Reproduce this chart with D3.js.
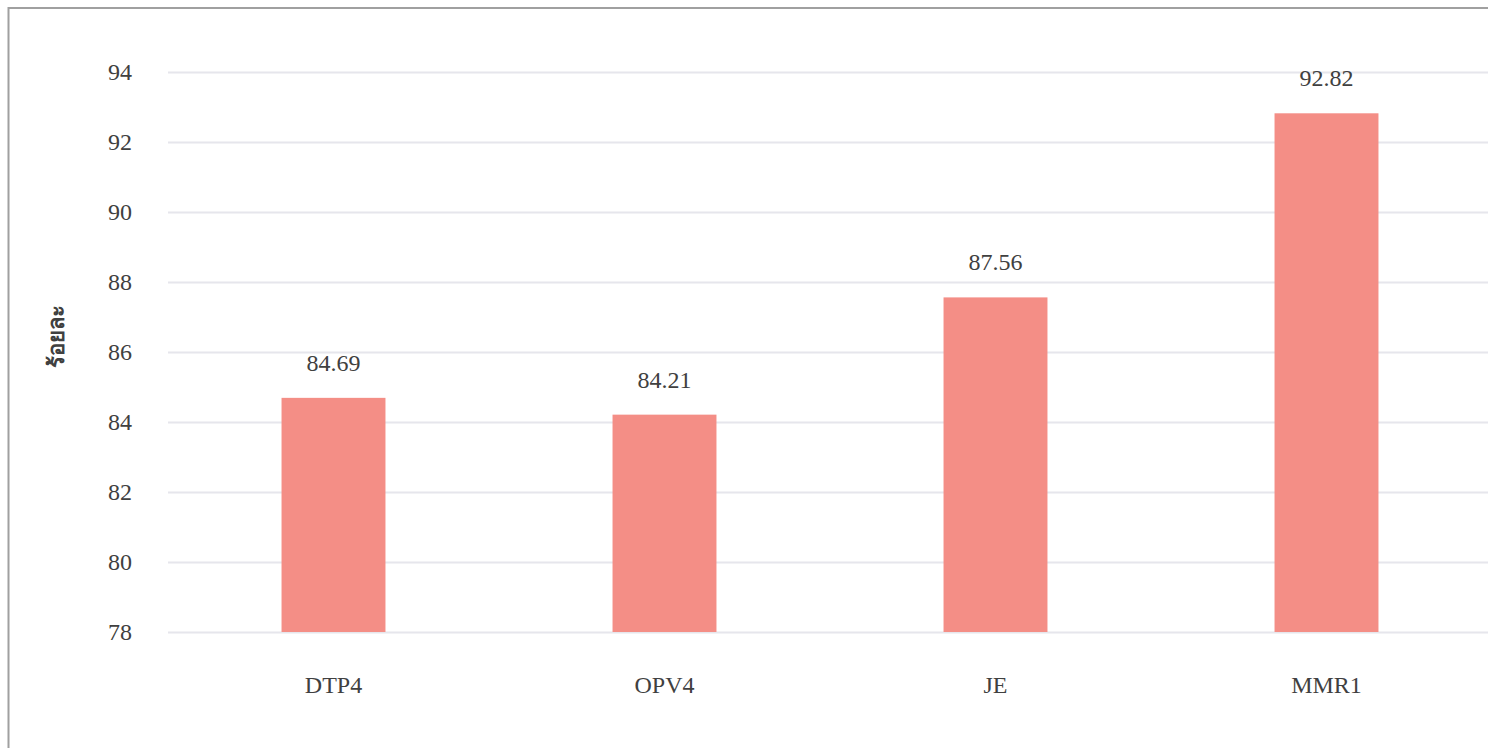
<!DOCTYPE html>
<html>
<head>
<meta charset="utf-8">
<script src="https://cdn.jsdelivr.net/npm/d3@7"></script>
<style>
  body { margin: 0; background: #fff; }
</style>
</head>
<body>
<div id="chart"></div>
<script>
const categories = ["DTP4", "OPV4", "JE", "MMR1"];
const values = [84.69, 84.21, 87.56, 92.82];
const yTicks = [78, 80, 82, 84, 86, 88, 90, 92, 94];
const yLabel = "ร้อยละ";

const width = 1488;
const height = 748;
const margin = { top: 72, right: -4, bottom: 116, left: 168 };
const serif = "'Times New Roman', Times, 'Liberation Serif', serif";

const x = d3
  .scaleBand()
  .domain(categories)
  .range([margin.left, width - margin.right])
  .padding(0);

const y = d3
  .scaleLinear()
  .domain([78, 94])
  .range([height - margin.bottom, margin.top]);

const barWidth = x.bandwidth() * 0.314;

const svg = d3
  .create("svg")
  .attr("width", width)
  .attr("height", height)
  .attr("viewBox", [0, 0, width, height])
  .style("font-family", serif);

// outer frame
svg
  .append("rect")
  .attr("x", 8.5)
  .attr("y", 8)
  .attr("width", width + 20)
  .attr("height", height + 20)
  .attr("fill", "none")
  .attr("stroke", "#a0a0a0")
  .attr("stroke-width", 2);

// grid lines
svg
  .append("g")
  .attr("transform", `translate(${margin.left},0)`)
  .call(
    d3
      .axisLeft(y)
      .tickValues(yTicks)
      .tickSize(-(width - margin.left - margin.right))
      .tickFormat("")
  )
  .call((g) => g.select(".domain").remove())
  .call((g) => g.selectAll("line").attr("stroke", "#e6e6ec").attr("stroke-width", 2));

// y tick labels
svg
  .append("g")
  .attr("transform", `translate(${margin.left - 36},0)`)
  .call(d3.axisLeft(y).tickValues(yTicks).tickSize(0).tickPadding(0))
  .call((g) => g.select(".domain").remove())
  .call((g) =>
    g
      .selectAll("text")
      .attr("font-size", 24)
      .attr("font-family", serif)
      .attr("fill", "#404040")
  );

// bars
svg
  .append("g")
  .selectAll("rect")
  .data(values)
  .join("rect")
  .attr("x", (d, i) => x(categories[i]) + (x.bandwidth() - barWidth) / 2)
  .attr("y", (d) => y(d))
  .attr("width", barWidth)
  .attr("height", (d) => y(78) - y(d))
  .attr("fill", "#f48e86");

// value labels
svg
  .append("g")
  .selectAll("text")
  .data(values)
  .join("text")
  .attr("x", (d, i) => x(categories[i]) + x.bandwidth() / 2)
  .attr("y", (d) => y(d) - 27)
  .attr("text-anchor", "middle")
  .attr("font-size", 24)
  .attr("font-family", serif)
  .attr("fill", "#404040")
  .text((d) => d.toFixed(2));

// x labels
svg
  .append("g")
  .attr("transform", `translate(0,${height - margin.bottom})`)
  .call(d3.axisBottom(x).tickSize(0).tickPadding(44))
  .call((g) => g.select(".domain").remove())
  .call((g) =>
    g
      .selectAll("text")
      .attr("font-size", 24)
      .attr("font-family", serif)
      .attr("fill", "#404040")
  );

// y axis title
svg
  .append("text")
  .attr("transform", `translate(64,336) rotate(-90)`)
  .attr("text-anchor", "middle")
  .attr("font-size", 22)
  .attr("font-weight", "bold")
  .attr("font-family", "'Noto Sans', 'DejaVu Sans', sans-serif")
  .attr("fill", "#404040")
  .text(yLabel);

document.getElementById("chart").append(svg.node());
</script>
</body>
</html>
